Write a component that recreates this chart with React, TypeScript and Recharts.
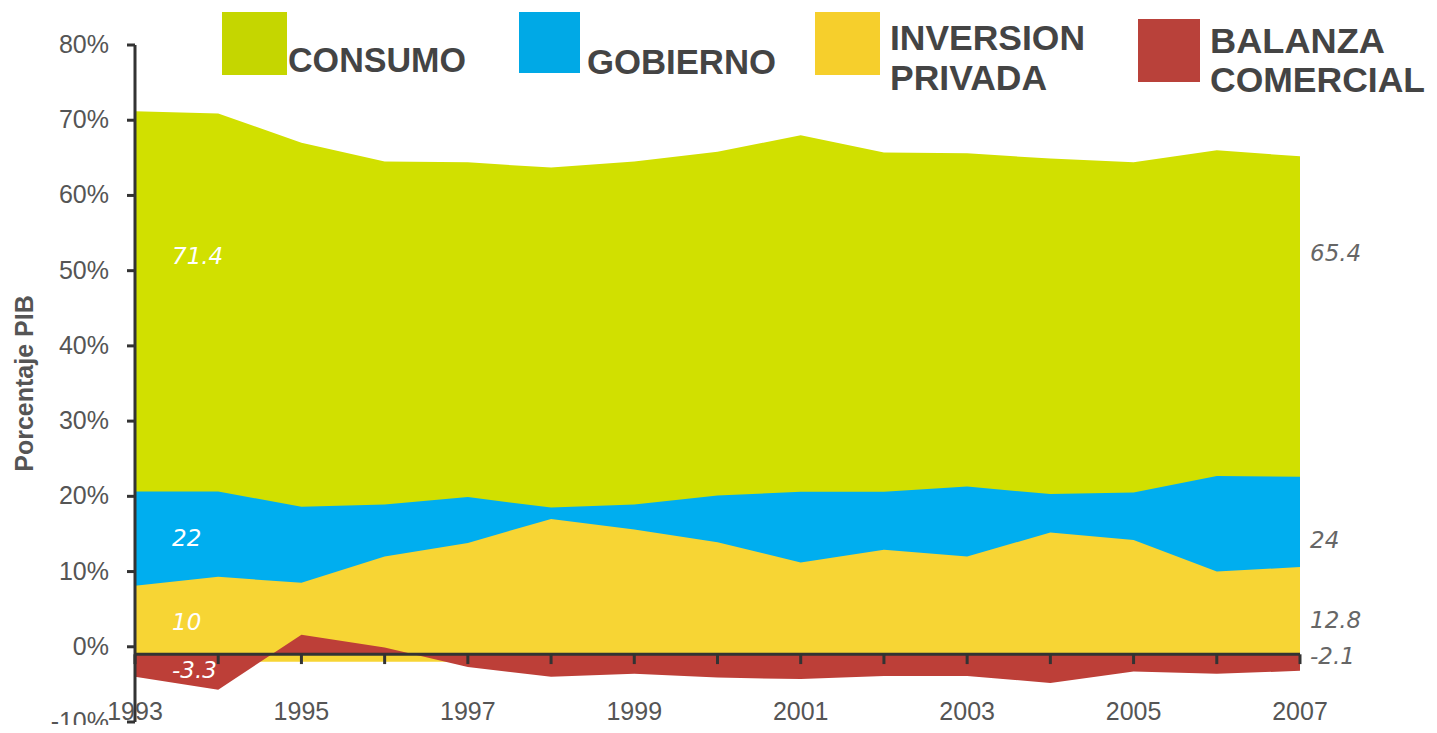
import React from 'react';
import { AreaChart, Area, XAxis, YAxis, ReferenceLine, ReferenceDot } from 'recharts';

const years = [1993, 1994, 1995, 1996, 1997, 1998, 1999, 2000, 2001, 2002, 2003, 2004, 2005, 2006, 2007];
const consumo = [71.2, 70.9, 67.0, 64.5, 64.4, 63.7, 64.5, 65.8, 68.0, 65.7, 65.6, 64.9, 64.4, 66.0, 65.2];
const gobierno = [20.65, 20.65, 18.6, 18.9, 19.9, 18.5, 18.9, 20.1, 20.6, 20.6, 21.3, 20.3, 20.5, 22.7, 22.6];
const inversion = [8.1, 9.3, 8.5, 12.0, 13.8, 17.0, 15.6, 13.9, 11.2, 12.9, 12.0, 15.2, 14.2, 10.0, 10.6];
const balanza = [-4.0, -5.7, 1.6, -0.1, -2.7, -4.0, -3.6, -4.1, -4.3, -3.9, -3.9, -4.8, -3.3, -3.6, -3.2];

const yTicks = [-10, 0, 10, 20, 30, 40, 50, 60, 70, 80];
const xLabelYears = [1993, 1995, 1997, 1999, 2001, 2003, 2005, 2007];
const seriesKeys = ['consumo', 'gobierno', 'inversion', 'balanza'];
const seriesNames = [['CONSUMO'], ['GOBIERNO'], ['INVERSION', 'PRIVADA'], ['BALANZA', 'COMERCIAL']];
const startLabels = ['71.4', '22', '10', '-3.3'];
const endLabels = ['65.4', '24', '12.8', '-2.1'];

// styling / layout (not data)
const areaColors = ['#D1E000', '#00AEEF', '#F7D534', '#BD3F38'];
const legendColors = ['#C5D600', '#00A9E6', '#F6CF2C', '#B9413A'];
const axisValue = -1;
const yellowBase = -2;
const labelYs = [51.9, 14.4, 3.3, -3.1];
const endLabelYs = [52.4, 14.2, 3.6, -1.2];
const legendLayout = [
  { sx: 214, sy: 4, sw: 65, sh: 63, tx: 280, lines: [{ y: 64, w: 178 }] },
  { sx: 511, sy: 4, sw: 61, sh: 61, tx: 579, lines: [{ y: 66, w: 189 }] },
  { sx: 807, sy: 4, sw: 65, sh: 63, tx: 882, lines: [{ y: 42, w: 195 }, { y: 82, w: 157 }] },
  { sx: 1130, sy: 11, sw: 62, sh: 63, tx: 1202, lines: [{ y: 45, w: 175 }, { y: 84, w: 215 }] },
];

const data = years.map((year, i) => ({
  year,
  consumo: consumo[i],
  gobierno: gobierno[i],
  inversion: inversion[i],
  balanza: balanza[i],
}));

const W = 1421;
const H = 724;
const FONT = '"Liberation Sans", Arial, sans-serif';
const NUMFONT = '"DejaVu Sans", Verdana, sans-serif';

const XTick = (props: any) => {
  const { x, y, payload } = props;
  return (
    <text x={x} y={y - 2} textAnchor="middle" fontSize={25} fill="#555" fontFamily={FONT}>
      {payload.value}
    </text>
  );
};

const YTick = (props: any) => {
  const { x, y, payload } = props;
  return (
    <text x={x} y={y + 8} textAnchor="end" fontSize={25} fill="#555" fontFamily={FONT}>
      {`${payload.value}%`}
    </text>
  );
};

const YLabel = (props: any) => {
  const vb = props.viewBox || { x: 0, y: 37, width: 127, height: 677 };
  const cx = vb.x + 16;
  const cy = vb.y + vb.height / 2;
  return (
    <text
      x={cx}
      y={cy}
      transform={`rotate(-90, ${cx}, ${cy})`}
      textAnchor="middle"
      dominantBaseline="central"
      fontSize={25}
      fontWeight="bold"
      fill="#555"
      fontFamily={FONT}
    >
      Porcentaje PIB
    </text>
  );
};

const makeLabelShape = (text: string, dx: number, color: string) => (p: any) => (
  <text
    x={p.cx + dx}
    y={p.cy}
    dominantBaseline="central"
    textAnchor="start"
    fontSize={23}
    fontStyle="italic"
    fill={color}
    fontFamily={NUMFONT}
  >
    {text}
  </text>
);

const Legend = () => (
  <svg width={W} height={100} style={{ position: 'absolute', left: 0, top: 0, pointerEvents: 'none' }}>
    {seriesNames.map((lines, i) => {
      const L = legendLayout[i];
      return (
        <g key={seriesKeys[i]}>
          <rect x={L.sx} y={L.sy} width={L.sw} height={L.sh} fill={legendColors[i]} />
          {lines.map((t, j) => (
            <text
              key={t}
              x={L.tx}
              y={L.lines[j].y}
              fontSize={35}
              fontWeight="bold"
              fill="#444"
              fontFamily={FONT}
              textLength={L.lines[j].w}
              lengthAdjust="spacingAndGlyphs"
            >
              {t}
            </text>
          ))}
        </g>
      );
    })}
  </svg>
);

export default function App() {
  return (
    <div style={{ position: 'relative', width: W, height: 717, background: '#fff' }}>
      <style>{'.recharts-surface{overflow:visible}'}</style>
      <AreaChart width={W} height={H} data={data} margin={{ top: 37, right: 129, bottom: 7, left: 0 }}>
        <XAxis
          dataKey="year"
          type="number"
          domain={[1993, 2007]}
          ticks={xLabelYears}
          interval={0}
          axisLine={false}
          tickLine={false}
          tickSize={0}
          tickMargin={0}
          height={3}
          tick={<XTick />}
        />
        <YAxis
          type="number"
          domain={[-10, 80]}
          ticks={yTicks}
          interval={0}
          width={127}
          tick={<YTick />}
          axisLine={{ stroke: '#333', strokeWidth: 3 }}
          tickLine={{ stroke: '#333', strokeWidth: 3 }}
          tickSize={8}
          tickMargin={18}
          label={<YLabel />}
        />
        <Area type="linear" dataKey="consumo" fill={areaColors[0]} fillOpacity={1} stroke="none" baseValue={axisValue} isAnimationActive={false} />
        <Area type="linear" dataKey="gobierno" fill={areaColors[1]} fillOpacity={1} stroke="none" baseValue={axisValue} isAnimationActive={false} />
        <Area type="linear" dataKey="inversion" fill={areaColors[2]} fillOpacity={1} stroke="none" baseValue={yellowBase} isAnimationActive={false} />
        <Area type="linear" dataKey="balanza" fill={areaColors[3]} fillOpacity={1} stroke="none" baseValue={axisValue} isAnimationActive={false} />
        <ReferenceLine y={axisValue} stroke="#333" strokeWidth={3} />
        {years.map((yr) => (
          <ReferenceLine
            key={yr}
            segment={[{ x: yr, y: axisValue }, { x: yr, y: -2.3 }]}
            stroke="#333"
            strokeWidth={3}
            ifOverflow="visible"
          />
        ))}
        {startLabels.map((t, i) => (
          <ReferenceDot
            key={'s' + t}
            x={1993}
            y={labelYs[i]}
            r={0}
            ifOverflow="visible"
            shape={makeLabelShape(t, 37, '#ffffff')}
          />
        ))}
        {endLabels.map((t, i) => (
          <ReferenceDot
            key={'e' + t}
            x={2007}
            y={endLabelYs[i]}
            r={0}
            ifOverflow="visible"
            shape={makeLabelShape(t, 10, '#666666')}
          />
        ))}
      </AreaChart>
      <Legend />
    </div>
  );
}
